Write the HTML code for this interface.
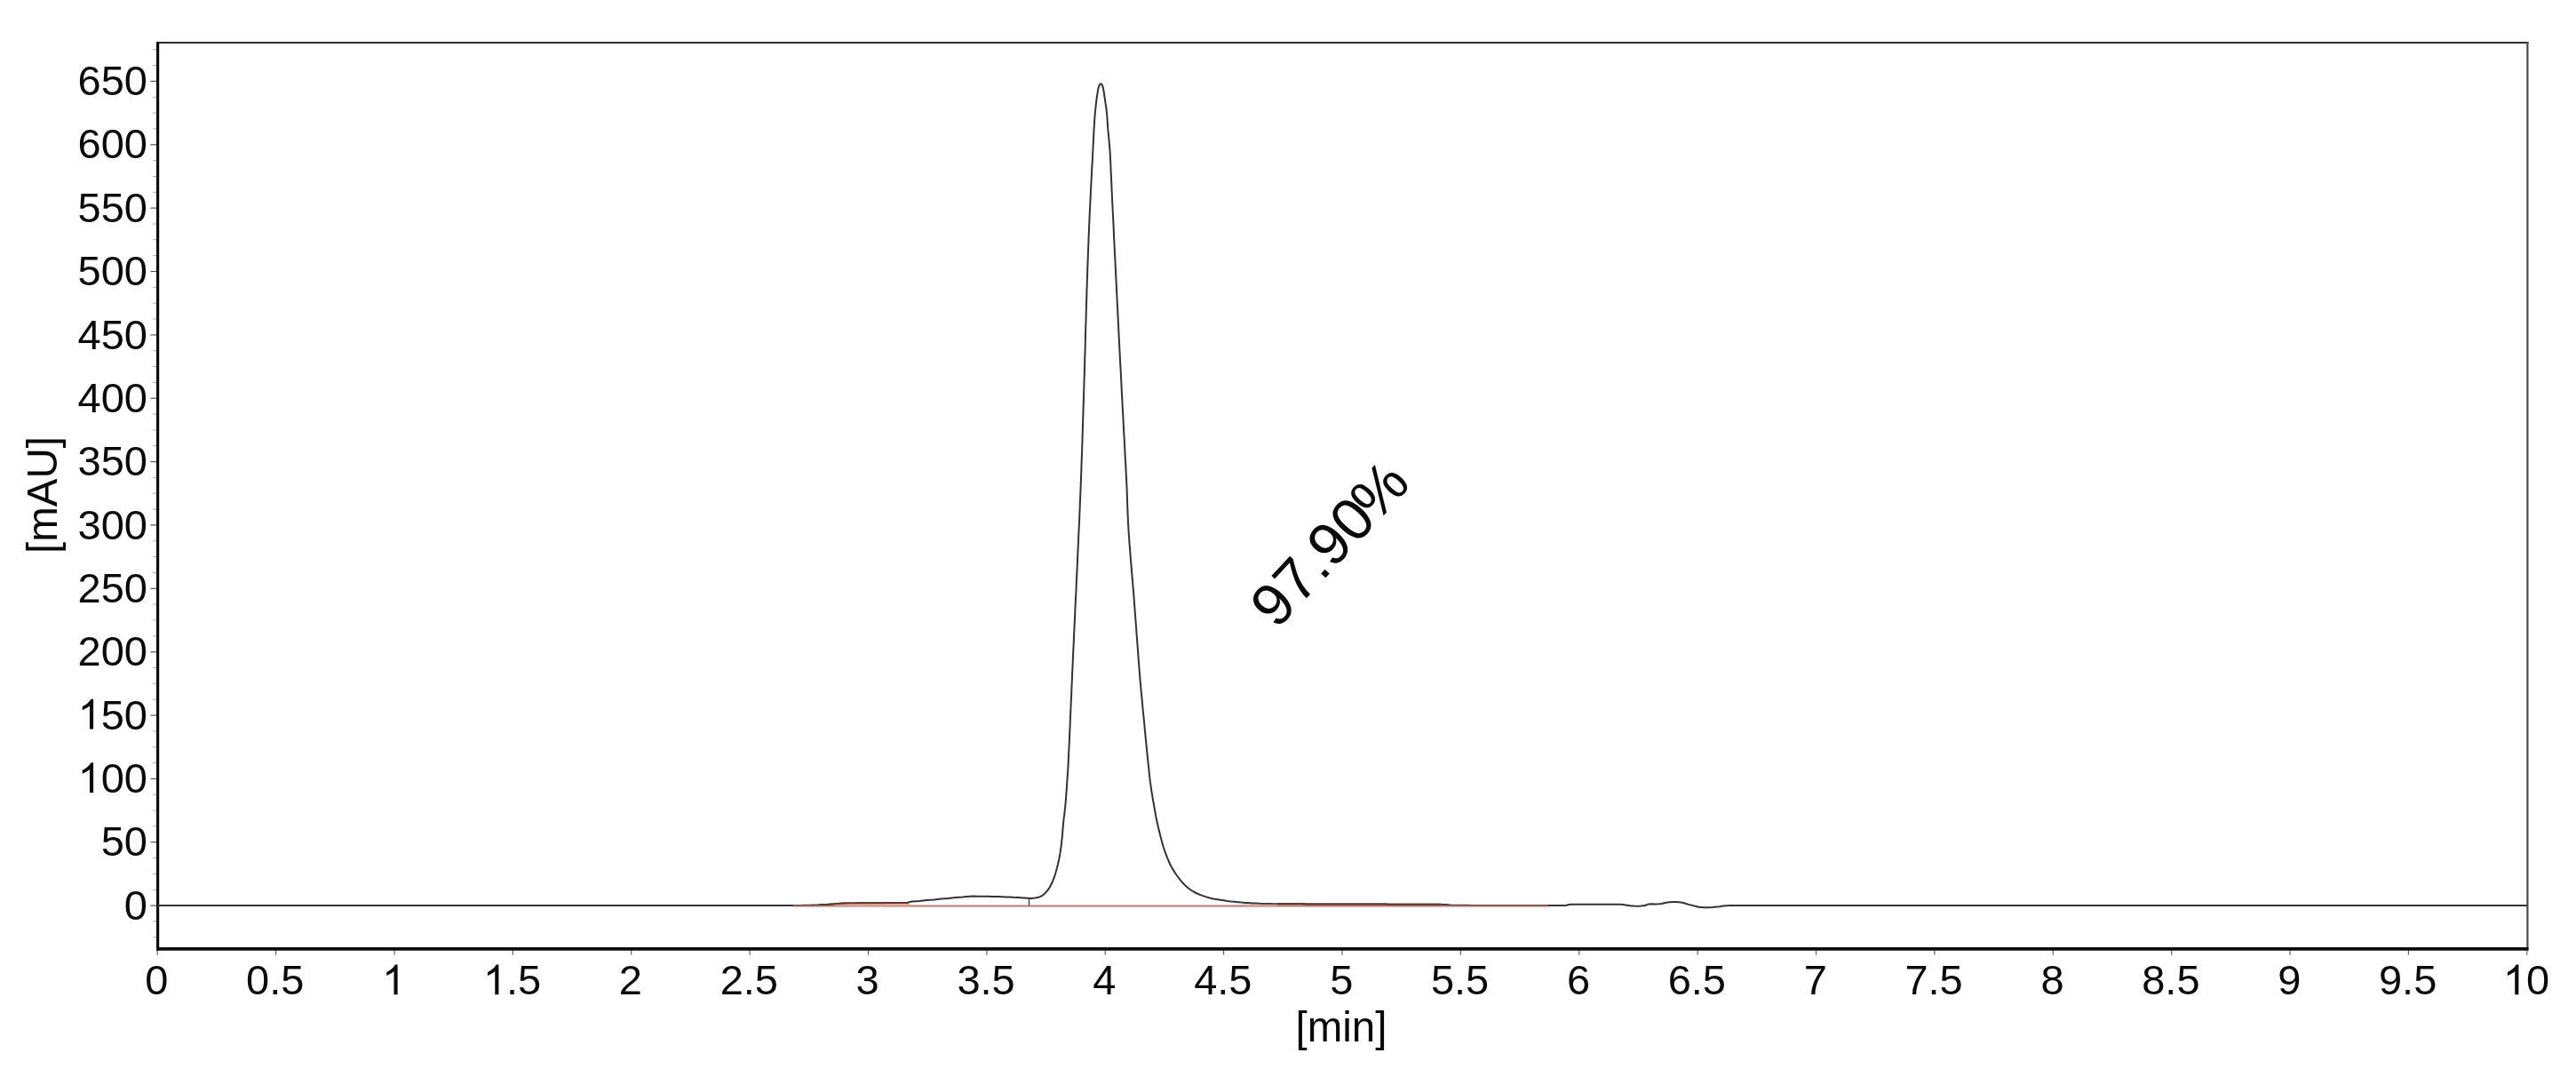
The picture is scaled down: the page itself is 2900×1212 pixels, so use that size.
<!DOCTYPE html>
<html><head><meta charset="utf-8"><title>Chromatogram</title>
<style>
html,body{margin:0;padding:0;background:#fff;}
body{width:2900px;height:1212px;overflow:hidden;}
svg{display:block;will-change:transform;font-family:"Liberation Sans",sans-serif;fill:#0a0a0a;}
</style></head><body>
<svg width="2900" height="1212" viewBox="0 0 2900 1212">
<rect width="2900" height="1212" fill="#fff"/>
<line x1="172" x2="176.5" y1="1054.8" y2="1054.8" stroke="#aaa" stroke-width="1"/>
<line x1="172" x2="176.5" y1="1036.9" y2="1036.9" stroke="#aaa" stroke-width="1"/>
<line x1="169.4" x2="176.5" y1="1019.1" y2="1019.1" stroke="#555" stroke-width="1.2"/>
<line x1="172" x2="176.5" y1="1001.3" y2="1001.3" stroke="#aaa" stroke-width="1"/>
<line x1="172" x2="176.5" y1="983.4" y2="983.4" stroke="#aaa" stroke-width="1"/>
<line x1="172" x2="176.5" y1="965.6" y2="965.6" stroke="#aaa" stroke-width="1"/>
<line x1="169.4" x2="176.5" y1="947.7" y2="947.7" stroke="#555" stroke-width="1.2"/>
<line x1="172" x2="176.5" y1="929.9" y2="929.9" stroke="#aaa" stroke-width="1"/>
<line x1="172" x2="176.5" y1="912.1" y2="912.1" stroke="#aaa" stroke-width="1"/>
<line x1="172" x2="176.5" y1="894.2" y2="894.2" stroke="#aaa" stroke-width="1"/>
<line x1="169.4" x2="176.5" y1="876.4" y2="876.4" stroke="#555" stroke-width="1.2"/>
<line x1="172" x2="176.5" y1="858.5" y2="858.5" stroke="#aaa" stroke-width="1"/>
<line x1="172" x2="176.5" y1="840.7" y2="840.7" stroke="#aaa" stroke-width="1"/>
<line x1="172" x2="176.5" y1="822.9" y2="822.9" stroke="#aaa" stroke-width="1"/>
<line x1="169.4" x2="176.5" y1="805.0" y2="805.0" stroke="#555" stroke-width="1.2"/>
<line x1="172" x2="176.5" y1="787.2" y2="787.2" stroke="#aaa" stroke-width="1"/>
<line x1="172" x2="176.5" y1="769.3" y2="769.3" stroke="#aaa" stroke-width="1"/>
<line x1="172" x2="176.5" y1="751.5" y2="751.5" stroke="#aaa" stroke-width="1"/>
<line x1="169.4" x2="176.5" y1="733.7" y2="733.7" stroke="#555" stroke-width="1.2"/>
<line x1="172" x2="176.5" y1="715.8" y2="715.8" stroke="#aaa" stroke-width="1"/>
<line x1="172" x2="176.5" y1="698.0" y2="698.0" stroke="#aaa" stroke-width="1"/>
<line x1="172" x2="176.5" y1="680.1" y2="680.1" stroke="#aaa" stroke-width="1"/>
<line x1="169.4" x2="176.5" y1="662.3" y2="662.3" stroke="#555" stroke-width="1.2"/>
<line x1="172" x2="176.5" y1="644.5" y2="644.5" stroke="#aaa" stroke-width="1"/>
<line x1="172" x2="176.5" y1="626.6" y2="626.6" stroke="#aaa" stroke-width="1"/>
<line x1="172" x2="176.5" y1="608.8" y2="608.8" stroke="#aaa" stroke-width="1"/>
<line x1="169.4" x2="176.5" y1="590.9" y2="590.9" stroke="#555" stroke-width="1.2"/>
<line x1="172" x2="176.5" y1="573.1" y2="573.1" stroke="#aaa" stroke-width="1"/>
<line x1="172" x2="176.5" y1="555.3" y2="555.3" stroke="#aaa" stroke-width="1"/>
<line x1="172" x2="176.5" y1="537.4" y2="537.4" stroke="#aaa" stroke-width="1"/>
<line x1="169.4" x2="176.5" y1="519.6" y2="519.6" stroke="#555" stroke-width="1.2"/>
<line x1="172" x2="176.5" y1="501.7" y2="501.7" stroke="#aaa" stroke-width="1"/>
<line x1="172" x2="176.5" y1="483.9" y2="483.9" stroke="#aaa" stroke-width="1"/>
<line x1="172" x2="176.5" y1="466.1" y2="466.1" stroke="#aaa" stroke-width="1"/>
<line x1="169.4" x2="176.5" y1="448.2" y2="448.2" stroke="#555" stroke-width="1.2"/>
<line x1="172" x2="176.5" y1="430.4" y2="430.4" stroke="#aaa" stroke-width="1"/>
<line x1="172" x2="176.5" y1="412.5" y2="412.5" stroke="#aaa" stroke-width="1"/>
<line x1="172" x2="176.5" y1="394.7" y2="394.7" stroke="#aaa" stroke-width="1"/>
<line x1="169.4" x2="176.5" y1="376.9" y2="376.9" stroke="#555" stroke-width="1.2"/>
<line x1="172" x2="176.5" y1="359.0" y2="359.0" stroke="#aaa" stroke-width="1"/>
<line x1="172" x2="176.5" y1="341.2" y2="341.2" stroke="#aaa" stroke-width="1"/>
<line x1="172" x2="176.5" y1="323.3" y2="323.3" stroke="#aaa" stroke-width="1"/>
<line x1="169.4" x2="176.5" y1="305.5" y2="305.5" stroke="#555" stroke-width="1.2"/>
<line x1="172" x2="176.5" y1="287.7" y2="287.7" stroke="#aaa" stroke-width="1"/>
<line x1="172" x2="176.5" y1="269.8" y2="269.8" stroke="#aaa" stroke-width="1"/>
<line x1="172" x2="176.5" y1="252.0" y2="252.0" stroke="#aaa" stroke-width="1"/>
<line x1="169.4" x2="176.5" y1="234.1" y2="234.1" stroke="#555" stroke-width="1.2"/>
<line x1="172" x2="176.5" y1="216.3" y2="216.3" stroke="#aaa" stroke-width="1"/>
<line x1="172" x2="176.5" y1="198.5" y2="198.5" stroke="#aaa" stroke-width="1"/>
<line x1="172" x2="176.5" y1="180.6" y2="180.6" stroke="#aaa" stroke-width="1"/>
<line x1="169.4" x2="176.5" y1="162.8" y2="162.8" stroke="#555" stroke-width="1.2"/>
<line x1="172" x2="176.5" y1="144.9" y2="144.9" stroke="#aaa" stroke-width="1"/>
<line x1="172" x2="176.5" y1="127.1" y2="127.1" stroke="#aaa" stroke-width="1"/>
<line x1="172" x2="176.5" y1="109.3" y2="109.3" stroke="#aaa" stroke-width="1"/>
<line x1="169.4" x2="176.5" y1="91.4" y2="91.4" stroke="#555" stroke-width="1.2"/>
<line x1="172" x2="176.5" y1="73.6" y2="73.6" stroke="#aaa" stroke-width="1"/>
<line x1="172" x2="176.5" y1="55.7" y2="55.7" stroke="#aaa" stroke-width="1"/>
<line x1="177.2" x2="177.2" y1="1069" y2="1074.8" stroke="#666" stroke-width="1.2"/>
<line x1="310.6" x2="310.6" y1="1069" y2="1074.8" stroke="#666" stroke-width="1.2"/>
<line x1="444.0" x2="444.0" y1="1069" y2="1074.8" stroke="#666" stroke-width="1.2"/>
<line x1="577.3" x2="577.3" y1="1069" y2="1074.8" stroke="#666" stroke-width="1.2"/>
<line x1="710.7" x2="710.7" y1="1069" y2="1074.8" stroke="#666" stroke-width="1.2"/>
<line x1="844.1" x2="844.1" y1="1069" y2="1074.8" stroke="#666" stroke-width="1.2"/>
<line x1="977.5" x2="977.5" y1="1069" y2="1074.8" stroke="#666" stroke-width="1.2"/>
<line x1="1110.9" x2="1110.9" y1="1069" y2="1074.8" stroke="#666" stroke-width="1.2"/>
<line x1="1244.2" x2="1244.2" y1="1069" y2="1074.8" stroke="#666" stroke-width="1.2"/>
<line x1="1377.6" x2="1377.6" y1="1069" y2="1074.8" stroke="#666" stroke-width="1.2"/>
<line x1="1511.0" x2="1511.0" y1="1069" y2="1074.8" stroke="#666" stroke-width="1.2"/>
<line x1="1644.4" x2="1644.4" y1="1069" y2="1074.8" stroke="#666" stroke-width="1.2"/>
<line x1="1777.8" x2="1777.8" y1="1069" y2="1074.8" stroke="#666" stroke-width="1.2"/>
<line x1="1911.1" x2="1911.1" y1="1069" y2="1074.8" stroke="#666" stroke-width="1.2"/>
<line x1="2044.5" x2="2044.5" y1="1069" y2="1074.8" stroke="#666" stroke-width="1.2"/>
<line x1="2177.9" x2="2177.9" y1="1069" y2="1074.8" stroke="#666" stroke-width="1.2"/>
<line x1="2311.3" x2="2311.3" y1="1069" y2="1074.8" stroke="#666" stroke-width="1.2"/>
<line x1="2444.7" x2="2444.7" y1="1069" y2="1074.8" stroke="#666" stroke-width="1.2"/>
<line x1="2578.0" x2="2578.0" y1="1069" y2="1074.8" stroke="#666" stroke-width="1.2"/>
<line x1="2711.4" x2="2711.4" y1="1069" y2="1074.8" stroke="#666" stroke-width="1.2"/>
<line x1="2844.8" x2="2844.8" y1="1069" y2="1074.8" stroke="#666" stroke-width="1.2"/>
<line x1="176" x2="2846.5" y1="48" y2="48" stroke="#2e2e2e" stroke-width="2.2"/>
<line x1="2845.4" x2="2845.4" y1="47" y2="1069" stroke="#4a4a4a" stroke-width="2.2"/>
<line x1="177.6" x2="177.6" y1="47" y2="1069.6" stroke="#0c0c0c" stroke-width="3.2"/>
<line x1="176" x2="2846.5" y1="1067.8" y2="1067.8" stroke="#0c0c0c" stroke-width="3.7"/>
<path d="M177.4 1019.0 L893.0 1019.0 L897.1 1018.9 L901.1 1018.9 L905.2 1018.8 L909.3 1018.7 L913.4 1018.6 L917.4 1018.4 L921.5 1018.3 L925.6 1018.1 L929.0 1018.0 L929.6 1018.0 L933.7 1017.7 L937.7 1017.4 L941.8 1017.1 L945.9 1016.8 L949.9 1016.5 L954.0 1016.4 L955.0 1016.4 L958.1 1016.4 L962.1 1016.4 L966.2 1016.3 L970.3 1016.3 L974.4 1016.3 L978.4 1016.3 L982.5 1016.2 L986.6 1016.2 L990.0 1016.2 L990.6 1016.2 L994.7 1016.2 L998.8 1016.1 L1002.9 1016.1 L1006.9 1016.1 L1011.0 1016.1 L1015.1 1016.0 L1019.1 1016.0 L1021.0 1016.0 L1023.1 1015.4 L1025.0 1014.8 L1027.1 1014.6 L1031.1 1014.2 L1035.2 1013.9 L1039.3 1013.5 L1043.3 1013.1 L1047.4 1012.7 L1051.4 1012.4 L1055.5 1012.0 L1059.5 1011.6 L1063.6 1011.2 L1064.0 1011.2 L1067.6 1010.9 L1071.7 1010.5 L1075.7 1010.1 L1079.8 1009.7 L1083.8 1009.4 L1087.9 1009.0 L1088.8 1008.9 L1092.0 1008.7 L1096.0 1008.6 L1100.1 1008.7 L1102.9 1008.7 L1104.2 1008.7 L1108.2 1008.7 L1112.3 1008.8 L1116.4 1008.9 L1118.3 1008.9 L1120.5 1009.0 L1124.5 1009.1 L1128.6 1009.2 L1132.7 1009.4 L1136.7 1009.6 L1140.8 1009.8 L1144.9 1009.9 L1146.3 1010.0 L1148.9 1010.2 L1153.0 1010.5 L1157.0 1010.8 L1158.5 1010.9 L1161.1 1010.9 L1165.2 1010.5 L1169.2 1009.8 L1172.9 1008.1 L1174.8 1006.7 L1176.0 1005.6 L1178.8 1002.6 L1181.2 999.4 L1181.8 998.3 L1183.1 995.8 L1184.9 992.2 L1186.4 988.4 L1187.3 985.8 L1187.7 984.6 L1188.8 980.8 L1189.9 976.9 L1190.8 973.3 L1190.9 973.0 L1191.8 969.0 L1192.6 965.1 L1193.3 961.1 L1193.6 959.4 L1193.9 957.1 L1194.5 953.2 L1195.0 949.2 L1195.4 945.2 L1195.7 942.6 L1195.8 941.2 L1196.2 937.1 L1196.5 933.1 L1196.8 929.1 L1197.1 925.9 L1197.2 925.1 L1197.6 921.1 L1198.2 917.1 L1198.6 913.1 L1199.1 909.1 L1199.2 907.8 L1199.4 905.1 L1199.8 901.1 L1200.1 897.0 L1200.4 893.0 L1200.7 889.0 L1201.0 885.0 L1201.2 881.0 L1201.3 880.0 L1201.5 877.0 L1201.8 872.9 L1202.1 868.9 L1202.3 864.9 L1202.6 860.9 L1202.6 860.0 L1202.7 856.9 L1202.9 852.8 L1203.1 848.8 L1203.3 844.8 L1203.5 840.8 L1203.7 836.7 L1203.9 832.7 L1204.0 828.7 L1204.2 824.7 L1204.4 820.6 L1204.6 816.6 L1204.8 812.6 L1204.9 808.6 L1205.1 804.5 L1205.3 800.5 L1205.5 796.5 L1205.6 792.5 L1205.8 788.4 L1206.0 784.4 L1206.2 780.4 L1206.3 776.4 L1206.5 772.3 L1206.7 768.3 L1206.9 764.3 L1207.0 760.3 L1207.2 756.2 L1207.4 752.2 L1207.6 748.2 L1207.8 744.2 L1207.9 740.2 L1208.1 736.1 L1208.3 732.1 L1208.4 730.0 L1208.5 728.1 L1208.7 724.1 L1208.9 720.0 L1209.0 716.0 L1209.2 712.0 L1209.4 708.0 L1209.6 703.9 L1209.8 699.9 L1210.0 695.9 L1210.2 691.9 L1210.3 687.8 L1210.5 683.8 L1210.7 679.8 L1210.9 675.8 L1211.1 671.7 L1211.3 667.7 L1211.5 663.7 L1211.7 659.7 L1211.8 655.6 L1212.0 651.6 L1212.2 647.6 L1212.4 643.6 L1212.6 639.6 L1212.8 635.5 L1213.0 631.5 L1213.1 627.5 L1213.3 623.5 L1213.5 619.4 L1213.7 615.4 L1213.9 611.4 L1214.1 607.4 L1214.2 603.3 L1214.4 600.0 L1214.4 599.3 L1214.6 595.3 L1214.8 591.3 L1215.0 587.2 L1215.2 583.2 L1215.3 579.2 L1215.5 575.2 L1215.7 571.1 L1215.8 567.1 L1216.0 563.1 L1216.2 559.1 L1216.3 555.0 L1216.5 551.0 L1216.7 547.0 L1216.8 543.0 L1217.0 538.9 L1217.0 538.0 L1217.1 534.9 L1217.3 530.9 L1217.4 526.9 L1217.5 522.8 L1217.7 518.8 L1217.8 514.8 L1218.0 510.8 L1218.1 506.7 L1218.2 502.7 L1218.4 498.7 L1218.5 494.7 L1218.6 490.6 L1218.8 486.6 L1218.9 482.6 L1219.0 478.6 L1219.1 474.5 L1219.3 470.5 L1219.4 466.5 L1219.5 462.4 L1219.6 458.4 L1219.8 454.4 L1219.9 450.4 L1220.0 446.3 L1220.1 442.3 L1220.3 438.3 L1220.4 434.3 L1220.4 434.0 L1220.5 430.2 L1220.6 426.2 L1220.8 422.2 L1220.9 418.2 L1221.0 414.1 L1221.1 410.1 L1221.2 406.1 L1221.3 402.0 L1221.5 398.0 L1221.6 394.0 L1221.7 390.0 L1221.8 385.9 L1221.9 381.9 L1222.0 377.9 L1222.1 373.9 L1222.2 369.8 L1222.3 365.8 L1222.5 361.8 L1222.6 357.8 L1222.7 353.7 L1222.8 349.7 L1222.9 345.7 L1223.0 341.6 L1223.2 337.6 L1223.3 333.6 L1223.4 330.0 L1223.4 329.6 L1223.5 325.5 L1223.7 321.5 L1223.8 317.5 L1223.9 313.5 L1224.1 309.4 L1224.2 305.4 L1224.3 301.4 L1224.5 297.4 L1224.6 293.3 L1224.8 289.3 L1224.9 285.3 L1225.1 281.3 L1225.2 277.2 L1225.4 273.2 L1225.5 269.2 L1225.7 265.2 L1225.9 261.1 L1226.0 257.1 L1226.2 253.1 L1226.4 249.1 L1226.5 245.0 L1226.7 241.0 L1226.9 237.0 L1227.1 233.0 L1227.3 228.9 L1227.5 224.9 L1227.7 220.9 L1227.9 216.9 L1227.9 216.0 L1228.1 212.8 L1228.3 208.8 L1228.5 204.8 L1228.7 200.8 L1228.9 196.8 L1229.1 192.7 L1229.3 188.7 L1229.6 184.7 L1229.8 180.7 L1230.0 176.6 L1230.2 172.8 L1230.2 172.6 L1230.4 168.6 L1230.6 164.6 L1230.8 160.5 L1231.0 156.5 L1231.2 152.5 L1231.4 148.5 L1231.6 145.0 L1231.6 144.5 L1231.9 140.4 L1232.1 136.4 L1232.4 132.4 L1232.7 128.4 L1232.9 126.4 L1233.1 124.4 L1233.5 120.4 L1233.9 116.4 L1234.4 112.4 L1234.8 109.7 L1235.0 108.4 L1235.6 104.4 L1236.2 100.4 L1237.3 96.3 L1238.6 94.6 L1239.4 94.3 L1240.2 94.8 L1241.2 96.6 L1242.2 100.4 L1242.8 104.4 L1243.4 108.4 L1243.6 109.7 L1244.0 112.3 L1244.6 116.3 L1245.2 120.3 L1245.7 124.3 L1245.9 126.4 L1246.1 128.3 L1246.4 132.3 L1246.7 136.3 L1247.0 140.3 L1247.2 144.4 L1247.3 145.0 L1247.6 148.4 L1248.0 152.4 L1248.4 156.4 L1248.7 160.4 L1249.1 164.4 L1249.4 168.4 L1249.7 172.4 L1249.7 172.8 L1249.9 176.4 L1250.1 180.5 L1250.3 184.5 L1250.5 188.5 L1250.6 192.5 L1250.8 196.5 L1251.0 200.6 L1251.2 204.6 L1251.4 208.6 L1251.5 212.6 L1251.7 216.0 L1251.7 216.6 L1251.9 220.7 L1252.1 224.7 L1252.3 228.7 L1252.5 232.7 L1252.7 236.7 L1252.9 240.8 L1253.1 244.8 L1253.3 248.8 L1253.5 252.8 L1253.7 256.8 L1253.8 260.9 L1254.0 264.9 L1254.2 268.9 L1254.4 272.9 L1254.6 276.9 L1254.8 281.0 L1255.0 285.0 L1255.2 289.0 L1255.4 293.0 L1255.6 297.0 L1255.8 301.1 L1256.0 305.1 L1256.2 309.1 L1256.4 313.1 L1256.6 317.1 L1256.8 321.2 L1257.0 325.2 L1257.2 329.2 L1257.2 330.0 L1257.4 333.2 L1257.6 337.2 L1257.8 341.3 L1258.0 345.3 L1258.2 349.3 L1258.4 353.3 L1258.6 357.3 L1258.8 361.4 L1259.0 365.4 L1259.2 369.4 L1259.4 373.4 L1259.6 377.4 L1259.8 381.5 L1260.0 385.5 L1260.2 389.5 L1260.4 393.5 L1260.6 397.5 L1260.8 401.6 L1261.0 405.6 L1261.2 409.6 L1261.5 413.6 L1261.7 417.6 L1261.9 421.6 L1262.1 425.7 L1262.3 429.7 L1262.5 433.7 L1262.5 434.0 L1262.7 437.7 L1262.9 441.7 L1263.1 445.8 L1263.3 449.8 L1263.5 453.8 L1263.7 457.8 L1264.0 461.8 L1264.2 465.9 L1264.4 469.9 L1264.6 473.9 L1264.8 477.9 L1265.0 481.9 L1265.2 486.0 L1265.4 490.0 L1265.7 494.0 L1265.9 498.0 L1266.1 502.0 L1266.3 506.0 L1266.5 510.1 L1266.7 514.1 L1266.9 518.1 L1267.2 522.1 L1267.4 526.1 L1267.6 530.2 L1267.8 534.2 L1268.0 538.0 L1268.0 538.2 L1268.2 542.2 L1268.4 546.2 L1268.6 550.3 L1268.7 554.3 L1268.9 558.3 L1269.0 562.3 L1269.1 566.3 L1269.3 570.4 L1269.4 574.4 L1269.6 578.4 L1269.8 582.4 L1269.9 586.5 L1270.1 590.5 L1270.4 594.5 L1270.6 598.5 L1270.7 600.0 L1270.9 602.5 L1271.2 606.5 L1271.4 610.6 L1271.8 614.6 L1272.1 618.6 L1272.4 622.6 L1272.7 626.6 L1273.0 630.6 L1273.4 634.6 L1273.7 638.6 L1274.0 642.6 L1274.4 646.7 L1274.7 650.7 L1275.1 654.7 L1275.4 658.7 L1275.7 662.7 L1276.1 666.7 L1276.4 670.7 L1276.7 674.7 L1277.0 678.7 L1277.1 679.8 L1277.3 682.8 L1277.6 686.8 L1277.9 690.8 L1278.2 694.8 L1278.5 698.8 L1278.8 702.8 L1279.1 706.8 L1279.4 710.9 L1279.7 714.9 L1280.0 718.9 L1280.3 722.9 L1280.6 726.9 L1280.9 730.9 L1281.2 734.9 L1281.5 739.0 L1281.8 743.0 L1282.1 747.0 L1282.4 751.0 L1282.7 755.0 L1283.1 759.0 L1283.1 759.6 L1283.4 763.0 L1283.7 767.0 L1284.1 771.0 L1284.4 775.0 L1284.8 779.1 L1285.2 783.1 L1285.6 787.1 L1286.0 791.1 L1286.3 795.1 L1286.7 799.1 L1287.1 803.1 L1287.5 807.1 L1287.9 811.1 L1288.3 815.1 L1288.7 819.1 L1288.7 819.5 L1289.0 823.1 L1289.4 827.1 L1289.8 831.1 L1290.2 835.1 L1290.6 839.1 L1291.0 843.2 L1291.4 847.2 L1291.8 851.2 L1292.2 855.2 L1292.6 859.2 L1293.1 863.2 L1293.5 867.2 L1293.9 871.2 L1293.9 871.3 L1294.3 875.2 L1294.8 879.2 L1295.4 883.2 L1295.9 887.1 L1296.5 891.1 L1297.2 895.1 L1297.8 899.1 L1298.5 903.0 L1299.2 907.0 L1299.9 911.0 L1299.9 911.2 L1300.6 914.9 L1301.3 918.9 L1302.1 922.8 L1303.0 926.8 L1303.9 930.7 L1304.8 934.6 L1305.8 938.5 L1306.8 942.4 L1307.7 946.0 L1307.8 946.3 L1308.9 950.2 L1310.0 954.0 L1311.3 957.9 L1312.7 961.6 L1314.1 965.4 L1315.7 969.1 L1316.5 971.0 L1317.3 972.8 L1319.2 976.4 L1321.3 979.8 L1323.5 983.2 L1324.0 984.0 L1325.8 986.5 L1328.2 989.7 L1330.8 992.8 L1333.6 995.7 L1335.3 997.3 L1336.6 998.5 L1339.8 1001.0 L1343.2 1003.1 L1346.7 1005.0 L1350.0 1006.5 L1350.5 1006.7 L1354.3 1008.1 L1358.1 1009.4 L1361.9 1010.5 L1365.9 1011.4 L1367.6 1011.7 L1369.8 1012.1 L1373.8 1012.7 L1377.8 1013.3 L1381.8 1013.9 L1385.8 1014.4 L1389.8 1014.8 L1393.8 1015.2 L1397.8 1015.6 L1399.5 1015.7 L1401.8 1015.9 L1405.8 1016.1 L1409.8 1016.4 L1413.9 1016.6 L1417.9 1016.8 L1421.9 1016.9 L1425.9 1017.1 L1429.9 1017.1 L1434.0 1017.2 L1438.0 1017.2 L1442.1 1017.2 L1446.1 1017.2 L1450.2 1017.3 L1454.2 1017.3 L1458.3 1017.3 L1462.3 1017.3 L1466.4 1017.3 L1470.5 1017.4 L1474.5 1017.4 L1478.6 1017.4 L1482.6 1017.4 L1486.7 1017.4 L1490.8 1017.5 L1494.8 1017.5 L1498.9 1017.5 L1500.0 1017.5 L1502.9 1017.5 L1507.0 1017.5 L1511.0 1017.5 L1515.1 1017.6 L1519.2 1017.6 L1523.2 1017.6 L1527.3 1017.6 L1531.3 1017.6 L1535.4 1017.6 L1539.4 1017.6 L1543.5 1017.6 L1547.6 1017.6 L1551.6 1017.6 L1555.7 1017.6 L1559.7 1017.6 L1563.8 1017.7 L1567.9 1017.7 L1571.9 1017.7 L1576.0 1017.7 L1580.0 1017.7 L1584.1 1017.7 L1588.1 1017.7 L1592.2 1017.7 L1596.3 1017.7 L1600.3 1017.7 L1604.4 1017.7 L1608.4 1017.7 L1612.5 1017.8 L1616.5 1017.8 L1620.6 1017.8 L1621.7 1017.8 L1624.7 1017.9 L1628.7 1018.1 L1632.8 1018.5 L1636.8 1018.7 L1640.0 1018.8 L1640.9 1018.8 L1644.9 1018.8 L1649.0 1018.8 L1653.0 1018.8 L1657.1 1018.9 L1661.2 1018.9 L1665.2 1018.9 L1669.3 1018.9 L1673.3 1018.9 L1677.4 1018.9 L1681.4 1018.9 L1685.5 1018.9 L1689.6 1018.9 L1693.6 1018.9 L1697.7 1018.9 L1701.7 1018.9 L1705.8 1019.0 L1709.9 1019.0 L1713.9 1019.0 L1718.0 1019.0 L1722.0 1019.0 L1726.1 1019.0 L1730.1 1019.0 L1734.2 1019.0 L1738.3 1019.0 L1742.3 1019.0 L1743.0 1019.0 L1746.4 1019.0 L1750.4 1019.0 L1754.5 1019.0 L1758.5 1019.0 L1762.0 1019.0 L1762.6 1019.0 L1766.6 1018.0 L1768.3 1017.8 L1770.6 1017.8 L1774.7 1017.7 L1778.7 1017.7 L1780.0 1017.7 L1782.8 1017.7 L1786.8 1017.7 L1790.9 1017.7 L1795.0 1017.7 L1799.0 1017.7 L1800.0 1017.7 L1803.1 1017.7 L1807.1 1017.7 L1811.2 1017.7 L1815.2 1017.7 L1818.0 1017.7 L1819.3 1017.7 L1823.4 1017.8 L1824.2 1017.8 L1827.4 1018.1 L1831.4 1018.7 L1835.4 1019.3 L1836.6 1019.4 L1839.5 1019.6 L1843.5 1019.7 L1847.6 1019.5 L1851.7 1019.0 L1852.0 1019.0 L1855.0 1017.7 L1855.4 1017.6 L1859.5 1017.3 L1863.6 1017.4 L1867.6 1017.3 L1870.8 1017.0 L1871.6 1016.8 L1875.5 1015.8 L1875.6 1015.8 L1879.6 1015.3 L1883.7 1015.0 L1887.8 1015.0 L1891.8 1015.4 L1894.0 1015.8 L1895.8 1016.3 L1899.7 1017.5 L1901.9 1018.1 L1903.6 1018.5 L1907.5 1019.6 L1911.5 1020.4 L1914.3 1020.9 L1915.5 1021.0 L1919.5 1021.3 L1923.6 1021.2 L1927.7 1021.0 L1931.7 1020.6 L1932.9 1020.5 L1935.8 1020.2 L1939.8 1019.6 L1943.8 1019.2 L1943.8 1019.2 L1947.9 1019.0 L1951.9 1018.9 L1956.0 1019.0 L2845.0 1019.0" fill="none" stroke="#333" stroke-width="2" stroke-linejoin="round"/>
<line x1="1158.5" x2="1158.5" y1="1010.9" y2="1019" stroke="#2a2a2a" stroke-width="1.2"/>
<line x1="893" x2="1743" y1="1019.5" y2="1019.5" stroke="#b86f63" stroke-width="2.2" opacity="0.92"/>
<path d="M925.6 1018.1 L929.0 1018.0 L929.6 1018.0 L933.7 1017.7 L937.7 1017.4 L941.8 1017.1 L945.9 1016.8 L949.9 1016.5 L954.0 1016.4 L955.0 1016.4 L958.1 1016.4 L962.1 1016.4 L966.2 1016.3 L970.3 1016.3 L974.4 1016.3 L978.4 1016.3 L982.5 1016.2 L986.6 1016.2 L990.0 1016.2 L990.6 1016.2 L994.7 1016.2 L998.8 1016.1 L1002.9 1016.1 L1006.9 1016.1 L1011.0 1016.1 L1015.1 1016.0 L1019.1 1016.0 L1021.0 1016.0 L1023.1 1015.4" fill="none" stroke="#6e2f28" stroke-width="1.9"/>
<path d="M1438.0 1017.2 L1442.1 1017.2 L1446.1 1017.2 L1450.2 1017.3 L1454.2 1017.3 L1458.3 1017.3 L1462.3 1017.3 L1466.4 1017.3 L1470.5 1017.4 L1474.5 1017.4 L1478.6 1017.4 L1482.6 1017.4 L1486.7 1017.4 L1490.8 1017.5 L1494.8 1017.5 L1498.9 1017.5 L1500.0 1017.5 L1502.9 1017.5 L1507.0 1017.5 L1511.0 1017.5 L1515.1 1017.6 L1519.2 1017.6 L1523.2 1017.6 L1527.3 1017.6 L1531.3 1017.6 L1535.4 1017.6 L1539.4 1017.6 L1543.5 1017.6 L1547.6 1017.6 L1551.6 1017.6 L1555.7 1017.6 L1559.7 1017.6 L1563.8 1017.7 L1567.9 1017.7 L1571.9 1017.7 L1576.0 1017.7 L1580.0 1017.7 L1584.1 1017.7 L1588.1 1017.7 L1592.2 1017.7 L1596.3 1017.7 L1600.3 1017.7 L1604.4 1017.7 L1608.4 1017.7 L1612.5 1017.8 L1616.5 1017.8 L1620.6 1017.8 L1621.7 1017.8" fill="none" stroke="#6e2f28" stroke-width="2.0"/>
<rect x="955" y="1017.2" width="69" height="2.9" fill="#d99a8e" opacity="0.85"/>
<rect x="1399" y="1017.6" width="39" height="2.6" fill="#d99a8e" opacity="0.85"/>
<text x="139.86" y="1034.7" font-size="47">0</text>
<text x="113.72" y="963.3" font-size="47">50</text>
<path transform="translate(87.58,892.0) scale(0.02295,-0.02295)" d="M763 0H583V1147Q518 1085 412.5 1023Q307 961 223 930V1104Q374 1175 487 1276Q600 1377 647 1472H763Z"/><text x="113.72" y="892.0" font-size="47">00</text>
<path transform="translate(87.58,820.6) scale(0.02295,-0.02295)" d="M763 0H583V1147Q518 1085 412.5 1023Q307 961 223 930V1104Q374 1175 487 1276Q600 1377 647 1472H763Z"/><text x="113.72" y="820.6" font-size="47">50</text>
<text x="87.58" y="749.3" font-size="47">200</text>
<text x="87.58" y="677.9" font-size="47">250</text>
<text x="87.58" y="606.5" font-size="47">300</text>
<text x="87.58" y="535.2" font-size="47">350</text>
<text x="87.58" y="463.8" font-size="47">400</text>
<text x="87.58" y="392.5" font-size="47">450</text>
<text x="87.58" y="321.1" font-size="47">500</text>
<text x="87.58" y="249.7" font-size="47">550</text>
<text x="87.58" y="178.4" font-size="47">600</text>
<text x="87.58" y="107.0" font-size="47">650</text>
<text x="163.33" y="1119.3" font-size="47">0</text>
<text x="277.11" y="1119.3" font-size="47">0.5</text>
<path transform="translate(430.09,1119.3) scale(0.02295,-0.02295)" d="M763 0H583V1147Q518 1085 412.5 1023Q307 961 223 930V1104Q374 1175 487 1276Q600 1377 647 1472H763Z"/>
<path transform="translate(543.87,1119.3) scale(0.02295,-0.02295)" d="M763 0H583V1147Q518 1085 412.5 1023Q307 961 223 930V1104Q374 1175 487 1276Q600 1377 647 1472H763Z"/><text x="570.01" y="1119.3" font-size="47">.5</text>
<text x="696.85" y="1119.3" font-size="47">2</text>
<text x="810.63" y="1119.3" font-size="47">2.5</text>
<text x="963.61" y="1119.3" font-size="47">3</text>
<text x="1077.39" y="1119.3" font-size="47">3.5</text>
<text x="1230.37" y="1119.3" font-size="47">4</text>
<text x="1344.15" y="1119.3" font-size="47">4.5</text>
<text x="1497.13" y="1119.3" font-size="47">5</text>
<text x="1610.91" y="1119.3" font-size="47">5.5</text>
<text x="1763.89" y="1119.3" font-size="47">6</text>
<text x="1877.67" y="1119.3" font-size="47">6.5</text>
<text x="2030.65" y="1119.3" font-size="47">7</text>
<text x="2144.43" y="1119.3" font-size="47">7.5</text>
<text x="2297.41" y="1119.3" font-size="47">8</text>
<text x="2411.19" y="1119.3" font-size="47">8.5</text>
<text x="2564.17" y="1119.3" font-size="47">9</text>
<text x="2677.95" y="1119.3" font-size="47">9.5</text>
<path transform="translate(2817.86,1119.3) scale(0.02295,-0.02295)" d="M763 0H583V1147Q518 1085 412.5 1023Q307 961 223 930V1104Q374 1175 487 1276Q600 1377 647 1472H763Z"/><text x="2844.00" y="1119.3" font-size="47">0</text>
<text x="1510" y="1171.6" text-anchor="middle" font-size="47.5">[min]</text>
<text transform="translate(63.8,557) rotate(-90)" text-anchor="middle" font-size="47.5">[mAU]</text>
<text transform="translate(1437.3,709.2) rotate(-47)" font-size="67">97.90<tspan dx="-3.5">%</tspan></text>
</svg>
</body></html>
